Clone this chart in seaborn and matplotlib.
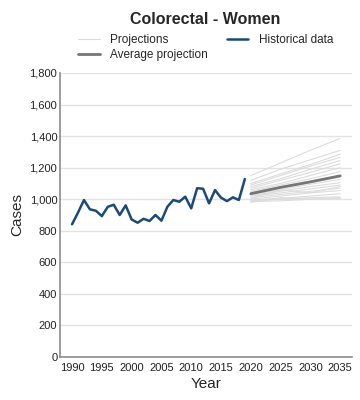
import numpy as np
import pandas as pd
import matplotlib
matplotlib.use("Agg")
import matplotlib.pyplot as plt
import matplotlib.ticker as mtick
import seaborn as sns

sns.set_theme(style="white")
plt.rcParams["font.family"] = ["Liberation Sans", "DejaVu Sans"]

NAVY = "#1b4a78"
AVG_GREY = "#767676"
PROJ_GREY = "#dcdcdc"

# ── Data ──────────────────────────────────────────────────────────────────────
hist_years = list(range(1990, 2020))
hist_cases = [841, 915, 995, 936, 927, 893, 952, 965, 900, 961,
              872, 851, 876, 862, 900, 864, 952, 995, 984, 1016,
              942, 1070, 1066, 974, 1058, 1010, 988, 1012, 995, 1128]

proj_years = [2020, 2025, 2030, 2035]
proj_runs = [
    [1150, 1230, 1310, 1385],
    [1120, 1190, 1250, 1310],
    [1100, 1160, 1220, 1285],
    [1090, 1150, 1210, 1265],
    [1080, 1130, 1190, 1245],
    [1070, 1120, 1170, 1225],
    [1060, 1100, 1150, 1200],
    [1050, 1090, 1130, 1175],
    [1045, 1080, 1115, 1150],
    [1040, 1075, 1105, 1140],
    [1030, 1060, 1095, 1125],
    [1025, 1050, 1080, 1105],
    [1020, 1040, 1065, 1090],
    [1010, 1030, 1050, 1070],
    [1000, 1020, 1040, 1055],
    [995, 1005, 1020, 1035],
    [990, 1000, 1010, 1015],
    [985, 990, 1000, 1005],
    [980, 1010, 1000, 1010],
    [1005, 1060, 1040, 1080],
]
avg_proj = [1035, 1075, 1110, 1148]

hist = pd.DataFrame({"year": hist_years, "cases": hist_cases})
proj = pd.DataFrame(
    [(i, y, v) for i, run in enumerate(proj_runs) for y, v in zip(proj_years, run)],
    columns=["run", "year", "cases"],
)
avg = pd.DataFrame({"year": proj_years, "cases": avg_proj})

# ── Plot ──────────────────────────────────────────────────────────────────────
fig = plt.figure(figsize=(3.6, 4.0), dpi=100)
ax = fig.add_axes([0.167, 0.1075, 0.811, 0.71])

sns.lineplot(data=proj, x="year", y="cases", units="run", estimator=None,
             color=PROJ_GREY, lw=0.8, ax=ax, legend=False)
sns.lineplot(data=avg, x="year", y="cases", color=AVG_GREY, lw=2, ax=ax)
sns.lineplot(data=hist, x="year", y="cases", color=NAVY, lw=1.8, ax=ax)

ax.set_ylim(0, 1800)
ax.set_xlim(1988, 2037)
ax.set_yticks(range(0, 1801, 200))
ax.set_xticks(range(1990, 2036, 5))
ax.yaxis.set_major_formatter(mtick.StrMethodFormatter("{x:,.0f}"))
ax.tick_params(axis="both", labelsize=8, length=0, colors="#222222")
ax.tick_params(axis="x", pad=4)
ax.tick_params(axis="y", pad=2)
ax.yaxis.grid(True, color="#e3e3e3", lw=1)
ax.xaxis.grid(False)
for s in ["top", "right"]:
    ax.spines[s].set_visible(False)
for s in ["left", "bottom"]:
    ax.spines[s].set_color("#8c8c8c")
    ax.spines[s].set_linewidth(1.2)

ax.set_xlabel("Year", fontsize=11, labelpad=3)
ax.set_ylabel("Cases", fontsize=11, labelpad=4)

handles = [
    plt.Line2D([], [], color=PROJ_GREY, lw=0.8),
    plt.Line2D([], [], color=AVG_GREY, lw=2),
    plt.Line2D([], [], color=NAVY, lw=1.8),
]
fig.legend(handles, ["Projections", "Average projection", "Historical data"],
           ncol=2, loc="upper left", bbox_to_anchor=(0.195, 0.935),
           frameon=False, fontsize=8.5, handlelength=1.8, handletextpad=0.9,
           columnspacing=1.6, labelspacing=0.25, borderpad=0.2)
fig.suptitle("Colorectal - Women", fontsize=11.5, fontweight="bold",
             x=0.57, y=0.97)

fig.savefig("out.png", dpi=100)
